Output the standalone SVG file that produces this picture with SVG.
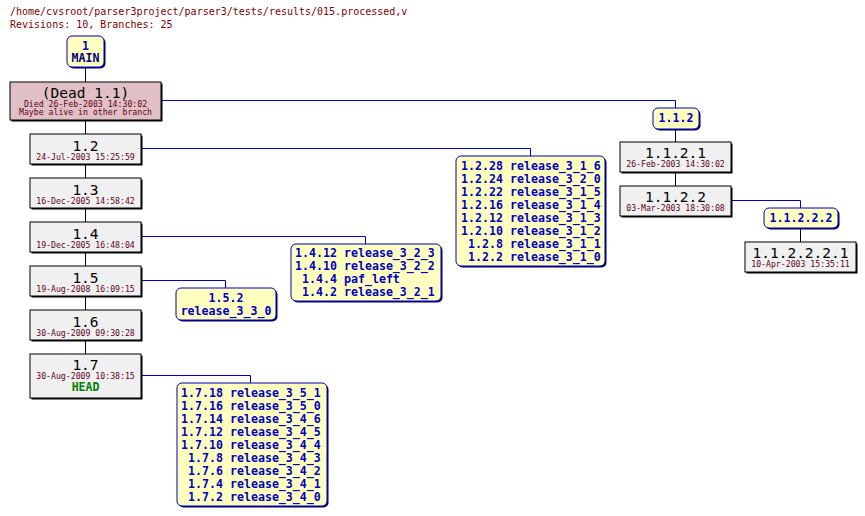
<svg xmlns="http://www.w3.org/2000/svg" width="865" height="516" viewBox="0 0 865 516">
<style>
text{font-family:"DejaVu Sans Mono","Liberation Mono",monospace}
.title{font-size:10px;fill:#800000}
.rev{fill:#f0f0f0;stroke:#000;stroke-width:1}
.dead{fill:#e0c0c4;stroke:#000;stroke-width:1}
.sh{fill:#000}
.tag{fill:#ffffc0;stroke:#0000c0;stroke-width:1}
.tsh{fill:#000060}
.lbl{font-size:14.5px;fill:#000;text-anchor:middle}
.date{font-size:8.2px;fill:#600020;text-anchor:middle}
.tt{font-size:11.6px;font-weight:bold;fill:#0000c0}
.mid{text-anchor:middle}
.end{text-anchor:end}
.head{font-size:11.5px;font-weight:bold;fill:#008000;text-anchor:middle}
.blk{stroke:#000;stroke-width:1;fill:none}
.blu{stroke:#0000c0;stroke-width:1;fill:none}
</style>
<text class="title" x="10" y="15">/home/cvsroot/parser3project/parser3/tests/results/015.processed,v</text>
<text class="title" x="10" y="28">Revisions: 10, Branches: 25</text>

<g id="connectors">
<path class="blk" d="M85.5 67V82M85.5 120V134M85.5 164V178M85.5 208V222M85.5 252V266M85.5 296V310M85.5 340V354M675.5 129V142M675.5 172V186M800.5 228V242"/>
<path class="blu" d="M161 100.5H675.5V108M141 148.5H530.5V156M141 236.5H365.5V244M141 280.5H225.5V288M141 375.5H250.5V383M731 200.5H800.5V208"/>
</g>

<g id="MAIN">
<rect class="tsh" x="68.5" y="37.5" width="37" height="31" rx="5"/>
<rect class="tag" x="67" y="36" width="37" height="31" rx="5"/>
<text class="tt mid" x="85.5" y="50">1</text>
<text class="tt mid" x="85.5" y="62" style="fill:#000080">MAIN</text>
</g>

<g id="r1.1">
<rect class="sh" x="11.5" y="83.5" width="151" height="38"/>
<rect class="dead" x="10" y="82" width="151" height="38"/>
<text class="lbl" x="85.5" y="97.5">(Dead 1.1)</text>
<text class="date" x="85.5" y="107">Died 26-Feb-2003 14:30:02</text>
<text class="date" x="85.5" y="115">Maybe alive in other branch</text>
</g>

<g id="r1.2">
<rect class="sh" x="31.5" y="135.5" width="111" height="30"/>
<rect class="rev" x="30" y="134" width="111" height="30"/>
<text class="lbl" x="85.5" y="150.5">1.2</text>
<text class="date" x="85.5" y="159.5">24-Jul-2003 15:25:59</text>
</g>
<g id="r1.3">
<rect class="sh" x="31.5" y="179.5" width="111" height="30"/>
<rect class="rev" x="30" y="178" width="111" height="30"/>
<text class="lbl" x="85.5" y="194.5">1.3</text>
<text class="date" x="85.5" y="203.5">16-Dec-2005 14:58:42</text>
</g>
<g id="r1.4">
<rect class="sh" x="31.5" y="223.5" width="111" height="30"/>
<rect class="rev" x="30" y="222" width="111" height="30"/>
<text class="lbl" x="85.5" y="238.5">1.4</text>
<text class="date" x="85.5" y="247.5">19-Dec-2005 16:48:04</text>
</g>
<g id="r1.5">
<rect class="sh" x="31.5" y="267.5" width="111" height="30"/>
<rect class="rev" x="30" y="266" width="111" height="30"/>
<text class="lbl" x="85.5" y="282.5">1.5</text>
<text class="date" x="85.5" y="291.5">19-Aug-2008 16:09:15</text>
</g>
<g id="r1.6">
<rect class="sh" x="31.5" y="311.5" width="111" height="30"/>
<rect class="rev" x="30" y="310" width="111" height="30"/>
<text class="lbl" x="85.5" y="326.5">1.6</text>
<text class="date" x="85.5" y="335.5">30-Aug-2009 09:30:28</text>
</g>
<g id="r1.7">
<rect class="sh" x="31.5" y="355.5" width="111" height="44"/>
<rect class="rev" x="30" y="354" width="111" height="44"/>
<text class="lbl" x="85.5" y="369.5">1.7</text>
<text class="date" x="85.5" y="379">30-Aug-2009 10:38:15</text>
<text class="head" x="85.5" y="391">HEAD</text>
</g>

<g id="b1.1.2">
<rect class="tsh" x="654.5" y="109.5" width="46" height="21" rx="5"/>
<rect class="tag" x="653" y="108" width="46" height="21" rx="5"/>
<text class="tt mid" x="676" y="122">1.1.2</text>
</g>
<g id="r1.1.2.1">
<rect class="sh" x="621.5" y="143.5" width="111" height="30"/>
<rect class="rev" x="620" y="142" width="111" height="30"/>
<text class="lbl" x="675.5" y="157.5">1.1.2.1</text>
<text class="date" x="675.5" y="167">26-Feb-2003 14:30:02</text>
</g>
<g id="r1.1.2.2">
<rect class="sh" x="621.5" y="187.5" width="111" height="30"/>
<rect class="rev" x="620" y="186" width="111" height="30"/>
<text class="lbl" x="675.5" y="201.5">1.1.2.2</text>
<text class="date" x="675.5" y="211">03-Mar-2003 18:30:08</text>
</g>
<g id="b1.1.2.2.2">
<rect class="tsh" x="765.5" y="209.5" width="74" height="20" rx="5"/>
<rect class="tag" x="764" y="208" width="74" height="20" rx="5"/>
<text class="tt mid" x="801" y="222">1.1.2.2.2</text>
</g>
<g id="r1.1.2.2.2.1">
<rect class="sh" x="746.5" y="243.5" width="111" height="30"/>
<rect class="rev" x="745" y="242" width="111" height="30"/>
<text class="lbl" x="800.5" y="257.5">1.1.2.2.2.1</text>
<text class="date" x="800.5" y="267">10-Apr-2003 15:35:11</text>
</g>

<g id="b1.2">
<rect class="tsh" x="457.5" y="157.5" width="149" height="110" rx="5"/>
<rect class="tag" x="456" y="156" width="149" height="110" rx="5"/>
<text class="tt end" x="503" y="170">1.2.28</text><text class="tt" x="510" y="170">release_3_1_6</text>
<text class="tt end" x="503" y="183">1.2.24</text><text class="tt" x="510" y="183">release_3_2_0</text>
<text class="tt end" x="503" y="196">1.2.22</text><text class="tt" x="510" y="196">release_3_1_5</text>
<text class="tt end" x="503" y="209">1.2.16</text><text class="tt" x="510" y="209">release_3_1_4</text>
<text class="tt end" x="503" y="222">1.2.12</text><text class="tt" x="510" y="222">release_3_1_3</text>
<text class="tt end" x="503" y="235">1.2.10</text><text class="tt" x="510" y="235">release_3_1_2</text>
<text class="tt end" x="503" y="248">1.2.8</text><text class="tt" x="510" y="248">release_3_1_1</text>
<text class="tt end" x="503" y="261">1.2.2</text><text class="tt" x="510" y="261">release_3_1_0</text>
</g>

<g id="b1.4">
<rect class="tsh" x="292.5" y="245.5" width="150" height="57" rx="5"/>
<rect class="tag" x="291" y="244" width="150" height="57" rx="5"/>
<text class="tt end" x="337" y="257">1.4.12</text><text class="tt" x="344" y="257">release_3_2_3</text>
<text class="tt end" x="337" y="270">1.4.10</text><text class="tt" x="344" y="270">release_3_2_2</text>
<text class="tt end" x="337" y="283">1.4.4</text><text class="tt" x="344" y="283">paf_left</text>
<text class="tt end" x="337" y="296">1.4.2</text><text class="tt" x="344" y="296">release_3_2_1</text>
</g>

<g id="b1.5.2">
<rect class="tsh" x="177.5" y="289.5" width="100" height="32" rx="5"/>
<rect class="tag" x="176" y="288" width="100" height="32" rx="5"/>
<text class="tt mid" x="226" y="302">1.5.2</text>
<text class="tt mid" x="226" y="315">release_3_3_0</text>
</g>

<g id="b1.7">
<rect class="tsh" x="178.5" y="384.5" width="150" height="123" rx="5"/>
<rect class="tag" x="177" y="383" width="150" height="123" rx="5"/>
<text class="tt end" x="223" y="397">1.7.18</text><text class="tt" x="230" y="397">release_3_5_1</text>
<text class="tt end" x="223" y="410">1.7.16</text><text class="tt" x="230" y="410">release_3_5_0</text>
<text class="tt end" x="223" y="423">1.7.14</text><text class="tt" x="230" y="423">release_3_4_6</text>
<text class="tt end" x="223" y="436">1.7.12</text><text class="tt" x="230" y="436">release_3_4_5</text>
<text class="tt end" x="223" y="449">1.7.10</text><text class="tt" x="230" y="449">release_3_4_4</text>
<text class="tt end" x="223" y="462">1.7.8</text><text class="tt" x="230" y="462">release_3_4_3</text>
<text class="tt end" x="223" y="475">1.7.6</text><text class="tt" x="230" y="475">release_3_4_2</text>
<text class="tt end" x="223" y="488">1.7.4</text><text class="tt" x="230" y="488">release_3_4_1</text>
<text class="tt end" x="223" y="501">1.7.2</text><text class="tt" x="230" y="501">release_3_4_0</text>
</g>
</svg>
